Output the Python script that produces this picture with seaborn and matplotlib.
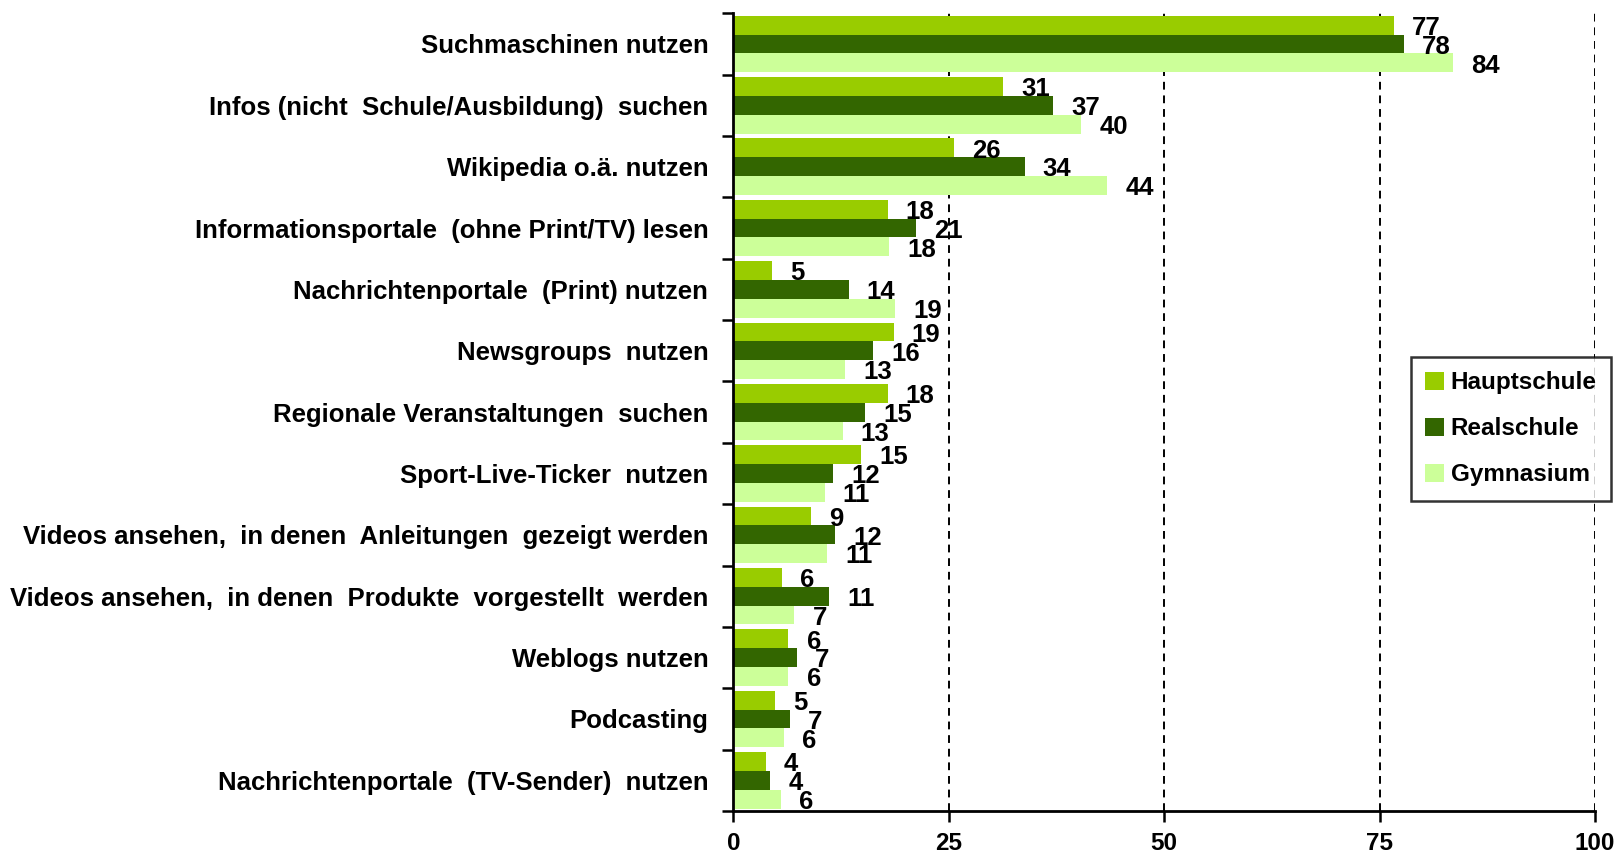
import numpy as np
import pandas as pd
import matplotlib
matplotlib.use("Agg")
import matplotlib.pyplot as plt
import seaborn as sns

categories = [
    "Suchmaschinen nutzen",
    "Infos (nicht  Schule/Ausbildung)  suchen",
    "Wikipedia o.ä. nutzen",
    "Informationsportale  (ohne Print/TV) lesen",
    "Nachrichtenportale  (Print) nutzen",
    "Newsgroups  nutzen",
    "Regionale Veranstaltungen  suchen",
    "Sport-Live-Ticker  nutzen",
    "Videos ansehen,  in denen  Anleitungen  gezeigt werden",
    "Videos ansehen,  in denen  Produkte  vorgestellt  werden",
    "Weblogs nutzen",
    "Podcasting",
    "Nachrichtenportale  (TV-Sender)  nutzen",
]
series = ["Hauptschule", "Realschule", "Gymnasium"]

hauptschule = [76.7, 31.3, 25.6, 17.9, 4.5, 18.6, 17.9, 14.8, 9.0, 5.7, 6.4, 4.8, 3.8]
realschule = [77.8, 37.1, 33.8, 21.2, 13.4, 16.2, 15.3, 11.6, 11.8, 11.1, 7.4, 6.6, 4.3]
gymnasium = [83.5, 40.4, 43.4, 18.1, 18.8, 13.0, 12.7, 10.6, 10.9, 7.1, 6.4, 5.9, 5.5]

labels_hauptschule = [77, 31, 26, 18, 5, 19, 18, 15, 9, 6, 6, 5, 4]
labels_realschule = [78, 37, 34, 21, 14, 16, 15, 12, 12, 11, 7, 7, 4]
labels_gymnasium = [84, 40, 44, 18, 19, 13, 13, 11, 11, 7, 6, 6, 6]

x_ticks = [0, 25, 50, 75, 100]
colors = ["#99CC00", "#336600", "#CCFF99"]

sns.set_theme(style="white")
plt.rcParams["font.family"] = ["Liberation Sans", "DejaVu Sans"]
plt.rcParams["font.weight"] = "bold"
plt.rcParams["text.color"] = "black"
plt.rcParams["xtick.color"] = "black"
plt.rcParams["ytick.color"] = "black"

df = pd.DataFrame({
    "Kategorie": categories * 3,
    "Schule": [s for s in series for _ in categories],
    "Wert": hauptschule + realschule + gymnasium,
})

fig = plt.figure(figsize=(16.17, 8.58), dpi=100)
ax = fig.add_axes([733.3 / 1617, 1 - 811 / 858, (1595 - 733.3) / 1617, (811 - 13.3) / 858])

sns.barplot(data=df, y="Kategorie", x="Wert", hue="Schule", order=categories,
            hue_order=series, palette=colors, saturation=1, width=0.92,
            orient="h", ax=ax, linewidth=0, zorder=3)

ax.set_xlim(0, 100)
ax.set_ylim(len(categories) - 0.5, -0.5)
ax.set_xticks(x_ticks)
ax.set_xticklabels([str(t) for t in x_ticks], fontsize=17.5, fontweight="bold", color="black")
ax.set_xlabel("")
ax.set_ylabel("")

# y labels at centers, tick marks at boundaries
ax.set_yticks(range(len(categories)))
ax.set_yticklabels(categories, fontsize=18.5, fontweight="bold", color="black")
ax.tick_params(axis="y", which="major", length=0, pad=18)
ax.set_yticks(np.arange(-0.5, len(categories), 1.0), minor=True)
ax.tick_params(axis="y", which="minor", length=8, width=1.8, direction="out", color="black", left=True)
ax.tick_params(axis="x", which="major", length=8, width=1.8, direction="out", color="black", pad=7, bottom=True)

for v in x_ticks[1:]:
    ax.axvline(v, color="black", linestyle=(0, (4, 3)), linewidth=1.4, zorder=1)

for side in ["top", "right"]:
    ax.spines[side].set_visible(False)
for side in ["left", "bottom"]:
    ax.spines[side].set_color("black")
    ax.spines[side].set_linewidth(2)
    ax.spines[side].set_zorder(4)

all_labels = [labels_hauptschule, labels_realschule, labels_gymnasium]
for cont, labs in zip(ax.containers, all_labels):
    for patch, lab in zip(cont.patches, labs):
        xe = patch.get_x() + patch.get_width()
        yc = patch.get_y() + patch.get_height() / 2
        ax.annotate(str(lab), xy=(xe, yc), xytext=(13, -2), textcoords="offset points",
                    ha="left", va="center", fontsize=18.5, fontweight="bold",
                    color="black", zorder=5, annotation_clip=False)

handles, lbls = ax.get_legend_handles_labels()
if ax.legend_:
    ax.legend_.remove()
leg = fig.legend(handles, lbls, loc="upper left", bbox_to_anchor=(1410.7 / 1617, 1 - 356.7 / 858),
                 frameon=True, fancybox=False, edgecolor="black",
                 prop={"weight": "bold", "size": 17.5},
                 handlelength=0.75, handleheight=0.75, handletextpad=0.3,
                 labelspacing=0.95, borderpad=0.6, borderaxespad=0)
leg.get_frame().set_linewidth(1.8)
for t in leg.get_texts():
    t.set_color("black")

fig.savefig("out.png", dpi=100, facecolor="white")
